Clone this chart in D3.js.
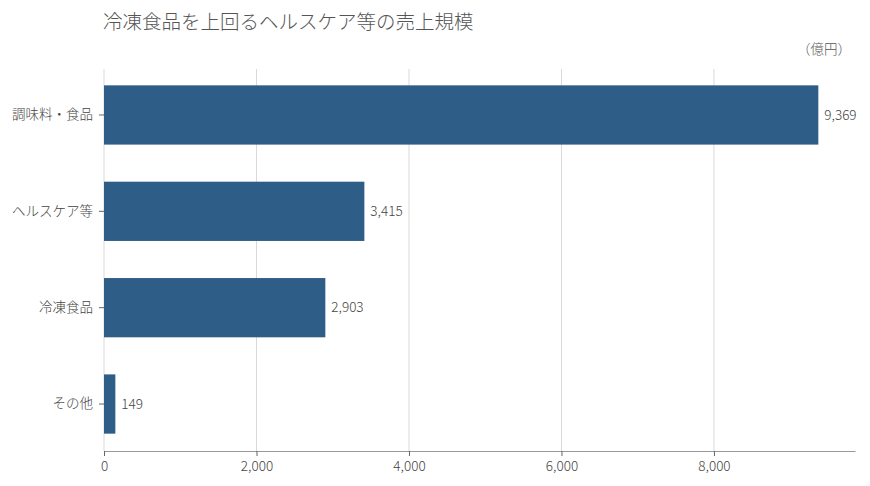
<!DOCTYPE html>
<html><head><meta charset="utf-8">
<script src="https://cdn.jsdelivr.net/npm/d3@7"></script>
<style>
html,body{margin:0;padding:0;background:#fff;}
svg{display:block;font-family:"Noto Sans CJK JP","Noto Sans",sans-serif;}
</style></head>
<body><svg id="c" width="870" height="486"></svg>
<script>
const categories = ["調味料・食品","ヘルスケア等","冷凍食品","その他"];
const values = [9369, 3415, 2903, 149];
const tickValues = [0, 2000, 4000, 6000, 8000];
const title = "冷凍食品を上回るヘルスケア等の売上規模";
const unit = "（億円）";

const svg = d3.select("#c");
const x = d3.scaleLinear().domain([0, 9850]).range([104, 855]);
const y = d3.scaleBand().domain(categories).range([68, 451]).paddingInner(0.385).paddingOuter(0.18);
const fmt = d3.format(",");

svg.append("text").attr("x", 103).attr("y", 29).attr("font-size", 19.5).attr("font-weight", 300).attr("fill", "#555").text(title);
svg.append("text").attr("x", 851).attr("y", 54).attr("text-anchor", "end").attr("font-size", 13.5).attr("font-weight", 300).attr("fill", "#555").text(unit);

// gridlines
svg.append("g").selectAll("line").data(tickValues).join("line")
  .attr("x1", d => x(d)).attr("x2", d => x(d)).attr("y1", 69).attr("y2", 451)
  .attr("stroke", "#d9d9d9").attr("stroke-width", 1);

// bars
svg.append("g").selectAll("rect").data(values).join("rect")
  .attr("x", x(0)).attr("y", (d, i) => y(categories[i]))
  .attr("width", d => x(d) - x(0)).attr("height", y.bandwidth())
  .attr("fill", "#2e5d87");

// value labels
svg.append("g").selectAll("text").data(values).join("text")
  .attr("x", d => x(d) + 6).attr("y", (d, i) => y(categories[i]) + y.bandwidth() / 2)
  .attr("dy", "0.35em").attr("font-size", 13.5).attr("font-weight", 300).attr("fill", "#444").text(d => fmt(d));

// x axis
const xa = svg.append("g").attr("transform", "translate(0,451)")
  .call(d3.axisBottom(x).tickValues(tickValues).tickFormat(fmt).tickSize(5).tickSizeOuter(0));
xa.select(".domain").attr("stroke", "#999");
xa.selectAll(".tick line").attr("stroke", "#666");
xa.selectAll(".tick text").attr("font-size", 13.5).attr("font-weight", 300).attr("fill", "#444").attr("font-family", "'Noto Sans CJK JP',sans-serif").attr("dy", "0.9em");

// y axis
const ya = svg.append("g").attr("transform", "translate(104,0)")
  .call(d3.axisLeft(y).tickSize(5).tickSizeOuter(0));
ya.select(".domain").remove();
ya.selectAll(".tick line").attr("stroke", "#666");
ya.selectAll(".tick text").attr("font-size", 13.5).attr("font-weight", 300).attr("fill", "#444").attr("font-family", "'Noto Sans CJK JP',sans-serif").attr("x", -11);
</script></body></html>
